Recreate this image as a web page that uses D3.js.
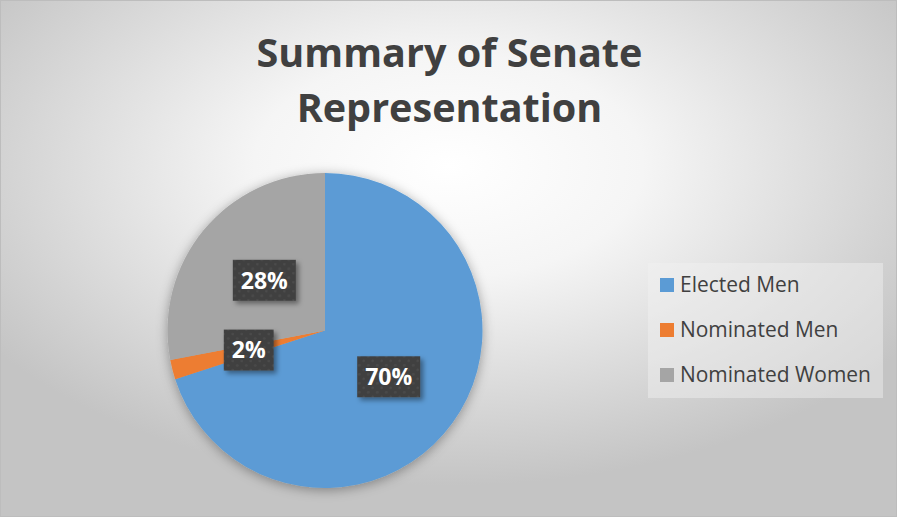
<!DOCTYPE html>
<html>
<head>
<meta charset="utf-8">
<script src="https://cdn.jsdelivr.net/npm/d3@7/dist/d3.min.js"></script>
<style>
  html, body { margin: 0; padding: 0; background: #ffffff; }
  svg { display: block; }
</style>
</head>
<body>
<svg id="chart" width="899" height="519"></svg>
<script>
// ---- data ----
const titleLines = ["Summary of Senate", "Representation"];
const categories = ["Elected Men", "Nominated Men", "Nominated Women"];
const values = [70, 2, 28];
const labels = ["70%", "2%", "28%"];
const colors = ["#5B9BD5", "#ED7D31", "#A5A5A5"];

const W = 899, H = 519;
const svg = d3.select("#chart");
const defs = svg.append("defs");

// background radial gradient
const bg = defs.append("radialGradient").attr("id", "bg")
  .attr("cx", "50%").attr("cy", "32%").attr("r", "62%")
  .attr("fx", "50%").attr("fy", "32%");
bg.append("stop").attr("offset", "0%").attr("stop-color", "#ffffff");
bg.append("stop").attr("offset", "35%").attr("stop-color", "#f5f5f5");
bg.append("stop").attr("offset", "100%").attr("stop-color", "#c4c4c4");

// soft shadow for pie
const f1 = defs.append("filter").attr("id", "pieShadow")
  .attr("x", "-20%").attr("y", "-20%").attr("width", "140%").attr("height", "140%");
f1.append("feDropShadow").attr("dx", 0).attr("dy", 2).attr("stdDeviation", 6)
  .attr("flood-color", "#000").attr("flood-opacity", 0.35);

const f2 = defs.append("filter").attr("id", "boxShadow")
  .attr("x", "-30%").attr("y", "-30%").attr("width", "160%").attr("height", "160%");
f2.append("feDropShadow").attr("dx", 3).attr("dy", 3).attr("stdDeviation", 2.5)
  .attr("flood-color", "#000").attr("flood-opacity", 0.4);

// dotted pattern for label boxes
const pat = defs.append("pattern").attr("id", "dots")
  .attr("width", 9).attr("height", 9).attr("patternUnits", "userSpaceOnUse");
pat.append("rect").attr("width", 9).attr("height", 9).attr("fill", "#404040");
pat.append("circle").attr("cx", 2).attr("cy", 2).attr("r", 1.3).attr("fill", "#4b4b4b");
pat.append("circle").attr("cx", 6.5).attr("cy", 6.5).attr("r", 1.3).attr("fill", "#4b4b4b");

// background and border
svg.append("rect").attr("x", 0.5).attr("y", 0.5).attr("width", W - 3).attr("height", H - 3)
  .attr("fill", "url(#bg)").attr("stroke", "#bdbdbd").attr("stroke-width", 1);

// title
const title = svg.append("g");
const titleTarget = 386;
const titleBase = [67, 122];
titleLines.forEach((t, i) => {
  title.append("text")
    .attr("x", 449.5).attr("y", titleBase[i])
    .attr("text-anchor", "middle")
    .attr("font-family", "'Open Sans', sans-serif")
    .attr("font-weight", "bold")
    .attr("font-size", 46)
    .attr("fill", "#404040")
    .text(t);
});
const tw = title.select("text").node().getComputedTextLength();
title.selectAll("text").attr("font-size", 46 * titleTarget / tw);

// pie
const cx = 325, cy = 330.5, R = 157.5;
const pie = d3.pie().sort(null).value(d => d)(values);
const arc = d3.arc().innerRadius(0).outerRadius(R);
const g = svg.append("g").attr("transform", `translate(${cx},${cy})`);
g.append("g").attr("filter", "url(#pieShadow)")
  .selectAll("path").data(pie).join("path")
  .attr("d", arc)
  .attr("fill", (d, i) => colors[i]);

// data labels
const lg = g.append("g");
pie.forEach((d, i) => {
  const [x, y] = arc.centroid(d);
  const grp = lg.append("g").attr("transform", `translate(${x},${y})`);
  const rect = grp.append("rect").attr("fill", "url(#dots)").attr("filter", "url(#boxShadow)");
  const t = grp.append("text")
    .attr("text-anchor", "middle")
    .attr("dy", "0.36em")
    .attr("font-family", "'Open Sans', sans-serif")
    .attr("font-weight", "bold")
    .attr("font-size", 23)
    .attr("fill", "#ffffff")
    .text(labels[i]);
  const w = t.node().getComputedTextLength();
  const bw = w + 16, bh = 41;
  rect.attr("x", -bw / 2).attr("y", -bh / 2).attr("width", bw).attr("height", bh);
});

// legend
const leg = svg.append("g");
leg.append("rect").attr("x", 648).attr("y", 263).attr("width", 235).attr("height", 135)
  .attr("fill", "#f2f2f2").attr("fill-opacity", 0.45);
const legBase = [292, 337, 382];
const items = leg.selectAll("g.item").data(categories).join("g").attr("class", "item");
items.append("rect")
  .attr("x", 660).attr("y", (d, i) => legBase[i] - 14)
  .attr("width", 14).attr("height", 14)
  .attr("fill", (d, i) => colors[i]);
const lt = items.append("text")
  .attr("x", 680).attr("y", (d, i) => legBase[i])
  .attr("font-family", "'Open Sans', sans-serif")
  .attr("font-size", 20)
  .attr("fill", "#404040")
  .text(d => d);
const wWomen = lt.nodes()[2].getComputedTextLength();
lt.attr("font-size", 20 * 191 / wWomen);
</script>
</body>
</html>
